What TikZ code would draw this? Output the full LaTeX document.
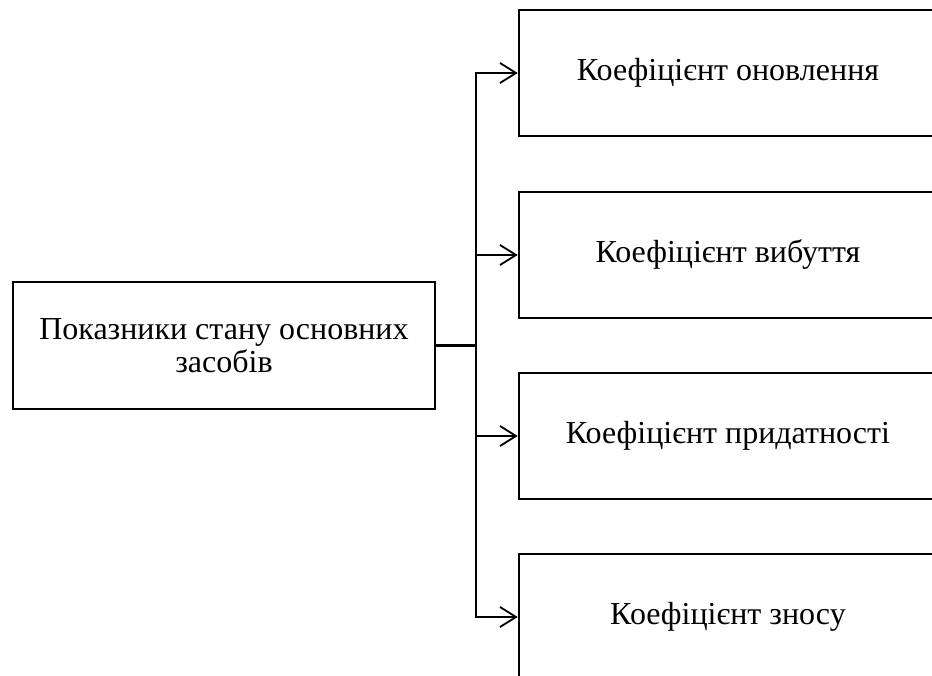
\documentclass[tikz,border=0pt]{standalone}
\usepackage{fontspec}
\setmainfont{Liberation Serif}
\usetikzlibrary{arrows.meta}
\begin{document}
\begin{tikzpicture}[x=1pt,y=-1pt,
  box/.style={draw, line width=2.6pt, rectangle, align=center, inner sep=0pt,
    font=\fontsize{32}{33}\selectfont},
  rbox/.style={box, minimum width=418pt, minimum height=126pt},
  link/.style={line width=2pt},
  arr/.style={link, -{Straight Barb[length=16pt,width=20pt,line width=1.8pt]}}]
\useasboundingbox (0,0) rectangle (932,676);
\clip (0,0) rectangle (932,676);
\node[box, minimum width=422pt, minimum height=127pt] (L) at (224,345.5) {Показники стану основних\\засобів};
\node[rbox] (b1) at (728,73) {Коефіцієнт оновлення};
\node[rbox] (b2) at (728,255) {Коефіцієнт вибуття};
\node[rbox] (b3) at (728,436) {Коефіцієнт придатності};
\node[rbox] (b4) at (728,617) {Коефіцієнт зносу};
\coordinate (bus) at (476,345.5);
\draw[link, line width=2.6pt] (L.east) -- (bus);
\draw[arr] (bus) |- (b1.west);
\draw[arr] (bus) |- (b2.west);
\draw[arr] (bus) |- (b3.west);
\draw[arr] (bus) |- (b4.west);
\end{tikzpicture}
\end{document}
